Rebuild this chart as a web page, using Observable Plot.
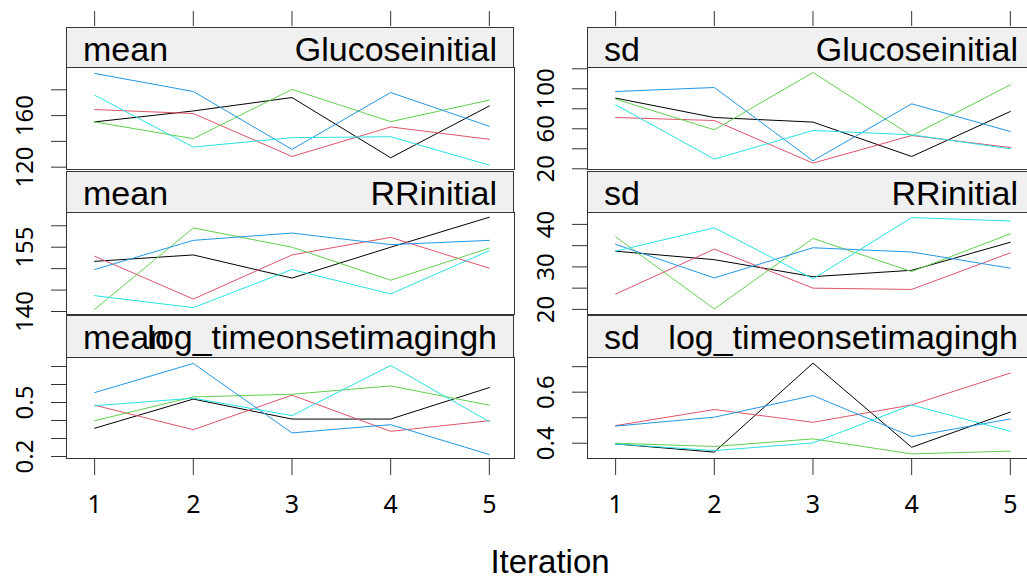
<!DOCTYPE html>
<html>
<head>
<meta charset="utf-8">
<script src="https://cdn.jsdelivr.net/npm/d3@7"></script>
<script src="https://cdn.jsdelivr.net/npm/@observablehq/plot@0.6"></script>
<style>
html, body { margin: 0; padding: 0; background: #fff; overflow: hidden; }
#chart { position: relative; width: 1027px; height: 581px; overflow: hidden; background: #fff;
  font-family: "Liberation Sans", Arial, Helvetica, sans-serif; }
.strip { position: absolute; box-sizing: border-box; border: 1px solid #333; background: #f0f0f0; }
.strip span { position: absolute; top: 4px; font-size: 34px; line-height: 34px; color: #000; white-space: nowrap; }
.abs { position: absolute; }
.xlab { position: absolute; top: 545px; left: 550px; transform: translateX(-50%); font-size: 33px; line-height: 33px; white-space: nowrap; }
</style>
</head>
<body>
<div id="chart"></div>
<script>
// ---------------- data ----------------
const iterations = [1, 2, 3, 4, 5];
const chains = ["1", "2", "3", "4", "5"];
const chainColors = ["#000000", "#DF536B", "#61D04F", "#2297E6", "#28E2E5"];

// one row per chain (1..5), one value per iteration
const meanGlucose = [
  [155.1, 163.6, 174.0, 127.3, 167.5],
  [164.7, 161.6, 128.3, 151.2, 141.6],
  [155.1, 142.1, 180.3, 155.3, 172.0],
  [192.7, 178.7, 133.8, 177.9, 151.7],
  [175.8, 135.6, 142.9, 143.6, 121.6]
];
const sdGlucose = [
  [90.7, 71.3, 66.7, 32.3, 77.3],
  [71.3, 68.3, 25.7, 53.3, 41.3],
  [89.7, 59.0, 116.3, 53.0, 104.0],
  [97.3, 101.3, 28.0, 85.0, 57.3],
  [84.0, 29.7, 58.3, 54.0, 40.0]
];
const meanRR = [
  [151.7, 153.2, 147.8, 155.0, 162.0],
  [152.9, 142.9, 153.2, 157.3, 150.1],
  [140.5, 159.5, 155.0, 147.3, 154.8],
  [149.8, 156.6, 158.3, 155.6, 156.6],
  [143.7, 140.9, 149.8, 144.1, 154.2]
];
const sdRR = [
  [33.7, 31.7, 27.7, 29.2, 35.8],
  [23.6, 34.2, 25.0, 24.7, 33.3],
  [37.1, 20.1, 36.7, 28.9, 37.8],
  [35.3, 27.4, 34.5, 33.5, 29.7],
  [33.7, 39.2, 27.2, 41.6, 40.8]
];
const meanLogTime = [
  [0.357, 0.519, 0.408, 0.408, 0.583],
  [0.485, 0.349, 0.541, 0.340, 0.399],
  [0.399, 0.531, 0.546, 0.592, 0.485],
  [0.555, 0.717, 0.331, 0.377, 0.211],
  [0.482, 0.524, 0.427, 0.706, 0.393]
];
const sdLogTime = [
  [0.397, 0.365, 0.714, 0.384, 0.522],
  [0.469, 0.532, 0.482, 0.550, 0.675],
  [0.400, 0.387, 0.417, 0.358, 0.369],
  [0.467, 0.502, 0.587, 0.426, 0.495],
  [0.397, 0.371, 0.401, 0.550, 0.447]
];

const statNames = ["mean", "sd"];
const variableNames = ["Glucoseinitial", "RRinitial", "log_timeonsetimagingh"];

// y scale settings per panel
const yDomains = [
  [118.2, 197.3], [19.3, 121.3],
  [139.3, 163.1], [18.8, 42.8],
  [0.189, 0.75],  [0.34, 0.736]
];
const yTicks = [
  [120, 140, 160, 180], [20, 40, 60, 80, 100, 120],
  [140, 145, 150, 155, 160], [20, 25, 30, 35, 40],
  [0.2, 0.3, 0.4, 0.5, 0.6, 0.7], [0.4, 0.5, 0.6, 0.7]
];
const yTickLabels = [
  [120, 160], [20, 60, 100],
  [140, 155], [20, 30, 40],
  [0.2, 0.5], [0.4, 0.6]
];
const panelValues = [meanGlucose, sdGlucose, meanRR, sdRR, meanLogTime, sdLogTime];

// ---------------- layout ----------------
const colLeft = [66, 587];
const boxW = 448;
const rowsGeom = [
  {stripTop: 27, top: 67, bottom: 169},
  {stripTop: 171, top: 212, bottom: 314},
  {stripTop: 315, top: 357, bottom: 458}
];
const xDomain = [0.715, 5.255];
const ML = 66, MR = 2;
const ink = "#333";

const chart = document.getElementById("chart");

function place(node, left, top, w) {
  const d = document.createElement("div");
  d.className = "abs";
  d.style.left = left + "px";
  d.style.top = top + "px";
  if (w) d.style.width = w + "px";
  d.appendChild(node);
  chart.appendChild(d);
}

const svgStyle = {background: "transparent", overflow: "visible", maxWidth: "none"};

panelValues.forEach((vals, i) => {
  const row = Math.floor(i / 2), col = i % 2;
  const g = rowsGeom[row];
  const data = [];
  vals.forEach((series, c) => series.forEach((v, k) => data.push({chain: chains[c], iteration: iterations[k], value: v})));

  // strip
  const strip = document.createElement("div");
  strip.className = "strip";
  strip.style.left = colLeft[col] + "px";
  strip.style.top = g.stripTop + "px";
  strip.style.width = boxW + "px";
  strip.style.height = (g.top - g.stripTop + 1) + "px";
  const s1 = document.createElement("span");
  s1.textContent = statNames[col];
  s1.style.left = "16px";
  const s2 = document.createElement("span");
  s2.textContent = variableNames[row];
  s2.style.right = "16px";
  strip.appendChild(s1); strip.appendChild(s2);
  chart.appendChild(strip);

  const MT = 1, MB = row === 2 ? 80 : 1;
  const h = g.bottom - g.top;
  const marks = [
    Plot.line(data, {x: "iteration", y: "value", z: "chain", stroke: "chain", strokeWidth: 1}),
    Plot.frame({stroke: ink}),
    Plot.axisY({ticks: yTicks[i], tickSize: 15, tickFormat: () => "", label: null, stroke: ink}),
    Plot.text(yTickLabels[i], {y: d => d, text: d => String(d), frameAnchor: "left", dx: -41, rotate: -90,
      textAnchor: "middle", lineAnchor: "middle", fontSize: 24, fill: "#000"})
  ];
  if (row === 2) {
    marks.push(Plot.axisX({ticks: iterations, tickSize: 17, tickFormat: () => "", label: null, stroke: ink}));
    marks.push(Plot.text(iterations, {x: d => d, text: d => String(d), frameAnchor: "bottom", dy: 46,
      textAnchor: "middle", lineAnchor: "middle", fontSize: 25, fill: "#000"}));
  }
  const p = Plot.plot({
    width: ML + boxW + MR,
    height: MT + h + MB,
    marginLeft: ML, marginRight: MR, marginTop: MT, marginBottom: MB,
    style: svgStyle,
    x: Object.assign({domain: xDomain}, row === 2 ? {} : {axis: null}),
    y: {domain: yDomains[i], axis: null},
    color: {domain: chains, range: chainColors},
    marks
  });
  place(p, colLeft[col] - ML, g.top - MT, ML + boxW + MR);
});

// top tick marks above the first row of strips
[0, 1].forEach(col => {
  const p = Plot.plot({
    width: ML + boxW + MR, height: 17,
    marginLeft: ML, marginRight: MR, marginTop: 16, marginBottom: 1,
    style: svgStyle,
    x: {domain: xDomain},
    y: {axis: null},
    marks: [Plot.axisX({anchor: "top", ticks: iterations, tickSize: 15, tickFormat: () => "", label: null, stroke: ink})]
  });
  place(p, colLeft[col] - ML, 9, ML + boxW + MR);
});

const xl = document.createElement("div");
xl.className = "xlab";
xl.textContent = "Iteration";
chart.appendChild(xl);
</script>
</body>
</html>
